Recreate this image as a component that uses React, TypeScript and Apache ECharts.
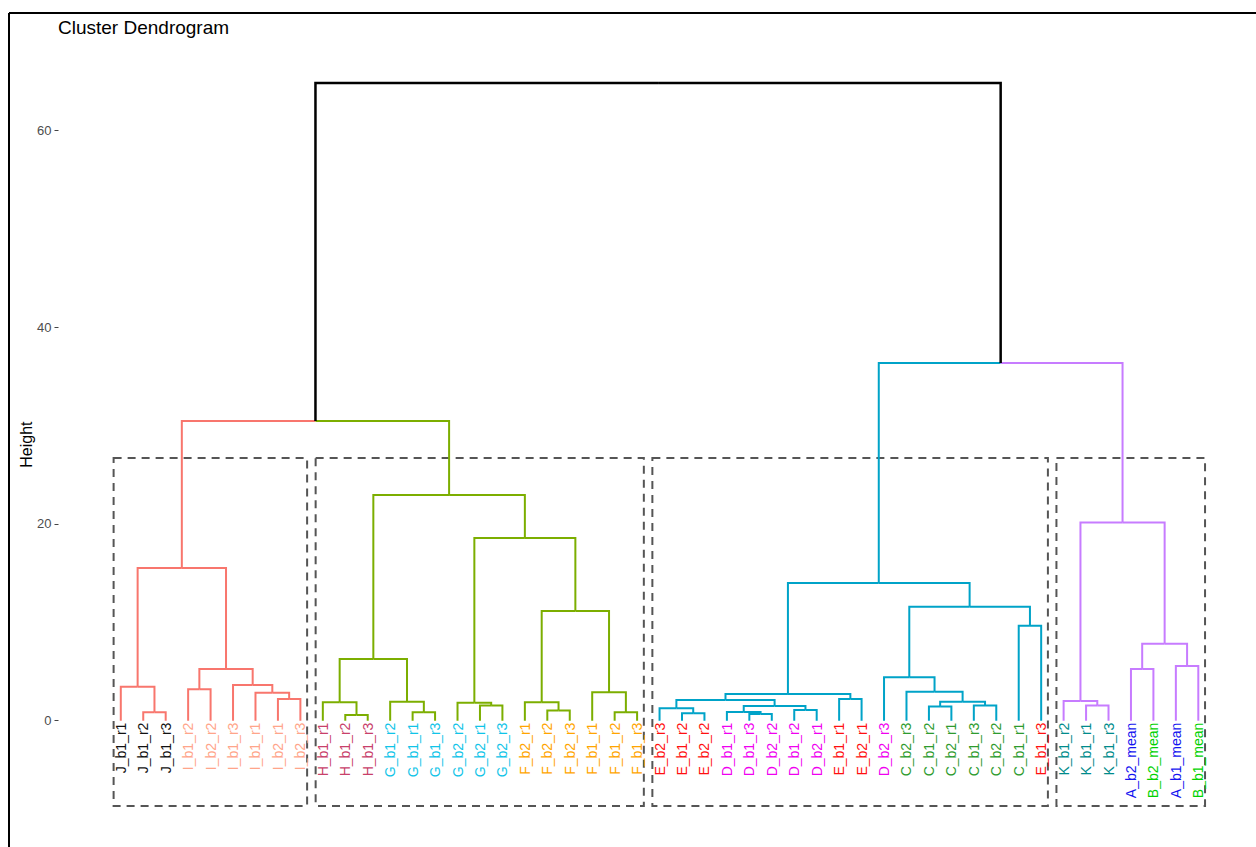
import React, { useEffect, useRef } from "react";
import * as echarts from "echarts";

// Leaves in dendrogram order
const leafLabels = [
  "J_b1_r1", "J_b1_r2", "J_b1_r3",
  "I_b1_r2", "I_b2_r2", "I_b1_r3", "I_b1_r1", "I_b2_r1", "I_b2_r3",
  "H_b1_r1", "H_b1_r2", "H_b1_r3",
  "G_b1_r2", "G_b1_r1", "G_b1_r3", "G_b2_r2", "G_b2_r1", "G_b2_r3",
  "F_b2_r1", "F_b2_r2", "F_b2_r3", "F_b1_r1", "F_b1_r2", "F_b1_r3",
  "E_b2_r3", "E_b1_r2", "E_b2_r2",
  "D_b1_r1", "D_b1_r3", "D_b2_r2", "D_b1_r2", "D_b2_r1",
  "E_b1_r1", "E_b2_r1", "D_b2_r3",
  "C_b2_r3", "C_b1_r2", "C_b2_r1", "C_b1_r3", "C_b2_r2", "C_b1_r1",
  "E_b1_r3",
  "K_b1_r2", "K_b1_r1", "K_b1_r3",
  "A_b2_mean", "B_b2_mean", "A_b1_mean", "B_b1_mean",
];

// Label colour by sample letter
const groupLetters = ["A", "B", "C", "D", "E", "F", "G", "H", "I", "J", "K"];
const groupColors = [
  "#1414F0", "#00D200", "#2E9B2E", "#F000F0", "#FF1010", "#FFA500",
  "#10C4E8", "#C8406A", "#FFA58A", "#111111", "#008B8B",
];

// Cluster (k = 4) of each leaf, and the branch colours
const leafCluster = [
  0, 0, 0, 0, 0, 0, 0, 0, 0,
  1, 1, 1, 1, 1, 1, 1, 1, 1, 1, 1, 1, 1, 1, 1,
  2, 2, 2, 2, 2, 2, 2, 2, 2, 2, 2, 2, 2, 2, 2, 2, 2, 2,
  3, 3, 3, 3, 3, 3, 3,
];
const clusterColors = ["#F8766D", "#7CAE00", "#00A3C8", "#C77CFF"];

// hclust-style merge table: negative = leaf (1-based order), positive = earlier merge row
const mergeA = [
  -2, -1, -4, -8, -7, -6, 3, 2,
  -11, -10, -14, -13, 10, -17, -16, -20, -19, -23, -22, 17, 15, 13, 8,
  -26, -25, -29, -28, -31, 27, 25, -33, 30,
  -37, -39, 33, -36, -35, -41, 37, 32,
  -44, -43, -46, -48, 43, 42, 40, 23,
];
const mergeB = [
  -3, 1, -5, -9, 4, 5, 6, 7,
  -12, 9, -15, 11, 12, -18, 14, -21, 16, -24, 18, 19, 20, 21, 22,
  -27, 24, -30, 26, -32, 28, 29, -34, 31,
  -38, -40, 34, 35, 36, -42, 38, 39,
  -45, 41, -47, -49, 44, 45, 46, 47,
];
const mergeHeight = [
  0.85, 3.46, 3.19, 2.21, 2.85, 3.63, 5.26, 15.53,
  0.58, 1.87, 0.85, 1.93, 6.27, 1.53, 1.83, 1.02, 1.87, 0.85, 2.89, 11.16, 18.58, 22.95, 30.48,
  0.75, 1.26, 0.68, 0.88, 1.09, 1.5, 2.1, 2.21, 2.72,
  1.45, 1.55, 1.93, 2.95, 4.41, 9.66, 11.59, 14.0,
  1.53, 2.0, 5.26, 5.56, 7.83, 20.14, 36.38, 64.85,
];

// Cluster boxes (rect.dendrogram)
const rectTop = 26.72;
const rectBottom = -8.67;
const yTicks = [0, 20, 40, 60];

const FONT = "'Liberation Sans', Arial, Helvetica, sans-serif";

function buildSegments() {
  const nx: number[] = [];
  const nh: number[] = [];
  const nc: number[] = [];
  const info = (ref: number) => {
    if (ref < 0) {
      const i = -ref;
      return { x: i, h: 0, c: leafCluster[i - 1] };
    }
    return { x: nx[ref - 1], h: nh[ref - 1], c: nc[ref - 1] };
  };
  const segs: number[][] = [];
  for (let k = 0; k < mergeHeight.length; k++) {
    const a = info(mergeA[k]);
    const b = info(mergeB[k]);
    const H = mergeHeight[k];
    const x = (a.x + b.x) / 2;
    nx.push(x);
    nh.push(H);
    nc.push(a.c === b.c ? a.c : -1);
    segs.push([a.x, a.h, H, x, a.c]);
    segs.push([b.x, b.h, H, x, b.c]);
  }
  return segs;
}

function buildBoxes() {
  const boxes: number[][] = [];
  let start = 1;
  for (let i = 2; i <= leafCluster.length + 1; i++) {
    if (i > leafCluster.length || leafCluster[i - 1] !== leafCluster[start - 1]) {
      boxes.push([start, i - 1]);
      start = i;
    }
  }
  return boxes;
}

function labelColor(label: string) {
  const idx = groupLetters.indexOf(label.charAt(0));
  return idx >= 0 ? groupColors[idx] : "#000";
}

export default function App() {
  const ref = useRef<HTMLDivElement>(null);
  useEffect(() => {
    if (!ref.current) return;
    const chart = echarts.init(ref.current, undefined, { renderer: "svg" });
    const segs = buildSegments();
    const boxes = buildBoxes();
    const leafData = leafLabels.map((_, i) => [i + 1, 0]);

    chart.setOption({
      animation: false,
      backgroundColor: "#fff",
      title: {
        text: "Cluster Dendrogram",
        left: 53,
        top: 13,
        textStyle: { fontSize: 19, fontWeight: "normal", color: "#000", fontFamily: FONT },
      },
      grid: { left: 58.5, right: 0, top: 42.2, bottom: 0, containLabel: false, outerBoundsMode: "none" },
      xAxis: {
        type: "value",
        min: -1.775,
        max: 51.57,
        axisLine: { show: false },
        axisTick: { show: false },
        splitLine: { show: false },
        axisLabel: { show: false },
      },
      yAxis: {
        type: "value",
        min: -12.85,
        max: 69,
        name: "Height",
        nameLocation: "middle",
        nameGap: 24,
        nameMoveOverlap: false,
        nameRotate: 90,
        nameTextStyle: { fontSize: 16, color: "#000", fontFamily: FONT },
        axisLine: { show: false, onZero: false },
        axisTick: {
          show: true,
          customValues: yTicks,
          length: 4,
          lineStyle: { color: "#444", width: 1 },
        },
        splitLine: { show: false },
        axisLabel: {
          customValues: yTicks,
          margin: 7,
          fontSize: 13,
          color: "#4D4D4D",
          fontFamily: FONT,
        },
      },
      graphic: [
        { type: "line", shape: { x1: 9, y1: 13, x2: 1256, y2: 13 }, style: { stroke: "#000", lineWidth: 2 }, z: 100 },
        { type: "line", shape: { x1: 9, y1: 13, x2: 9, y2: 847 }, style: { stroke: "#000", lineWidth: 2 }, z: 100 },
      ],
      series: [
        {
          type: "custom",
          coordinateSystem: "cartesian2d",
          silent: true,
          data: boxes,
          renderItem: (params: any, api: any) => {
            const p1 = api.coord([api.value(0) - 0.32, rectTop]);
            const p2 = api.coord([api.value(1) + 0.3, rectBottom]);
            return {
              type: "rect",
              shape: { x: p1[0], y: p1[1], width: p2[0] - p1[0], height: p2[1] - p1[1] },
              style: { fill: "none", stroke: "#555", lineWidth: 2, lineDash: [8, 6] },
            };
          },
          z: 1,
        },
        {
          type: "custom",
          coordinateSystem: "cartesian2d",
          silent: true,
          data: segs,
          renderItem: (params: any, api: any) => {
            const xc = api.value(0);
            const hc = api.value(1);
            const H = api.value(2);
            const xp = api.value(3);
            const c = api.value(4);
            const pts = [api.coord([xc, hc]), api.coord([xc, H]), api.coord([xp, H])];
            const black = c < 0;
            return {
              type: "polyline",
              shape: { points: pts },
              style: {
                fill: "none",
                stroke: black ? "#000" : clusterColors[c],
                lineWidth: black ? 2.5 : 2,
              },
            };
          },
          z: 2,
        },
        {
          type: "custom",
          coordinateSystem: "cartesian2d",
          silent: true,
          data: leafData,
          renderItem: (params: any, api: any) => {
            const p = api.coord([api.value(0), api.value(1)]);
            const label = leafLabels[params.dataIndex];
            return {
              type: "text",
              x: p[0],
              y: p[1] + 2,
              rotation: Math.PI / 2,
              style: {
                text: label,
                align: "right",
                verticalAlign: "middle",
                fill: labelColor(label),
                fontSize: 14,
                fontFamily: FONT,
              },
            };
          },
          z: 3,
        },
      ],
    });
    return () => chart.dispose();
  }, []);
  return (
    <div
      ref={ref}
      style={{ position: "absolute", left: 0, top: 0, width: 1256, height: 847, background: "#fff" }}
    />
  );
}
